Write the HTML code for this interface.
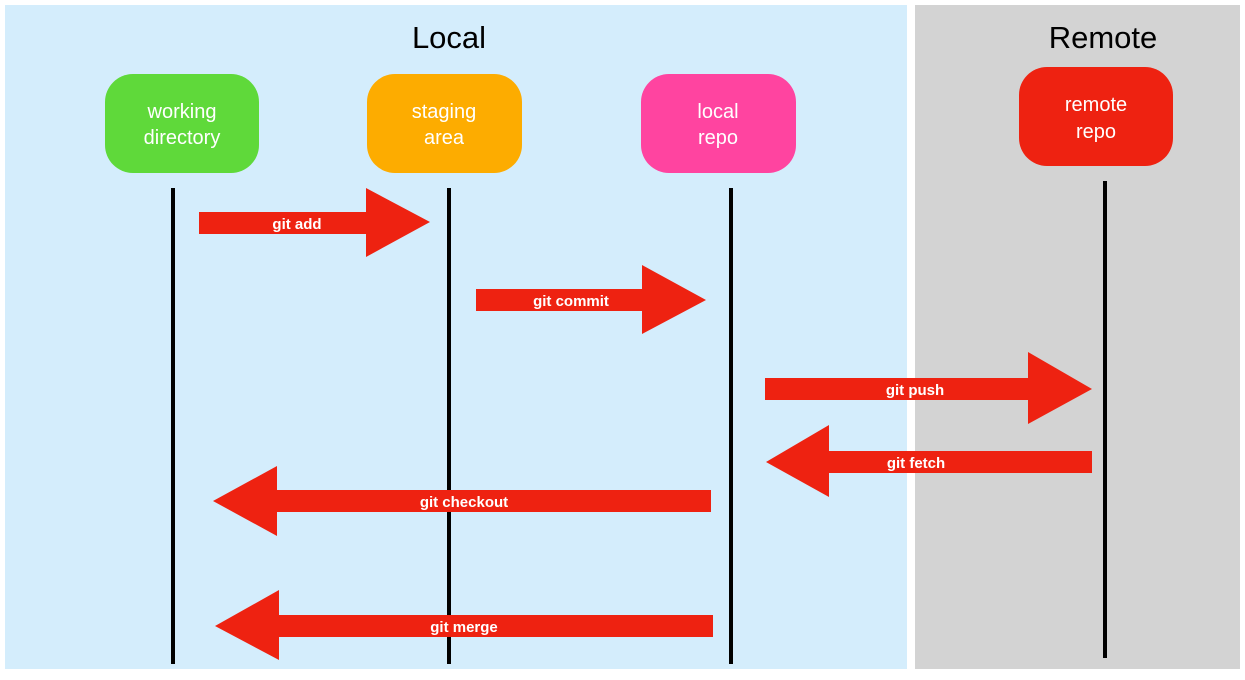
<!DOCTYPE html>
<html><head><style>
body{margin:0;background:#fff;width:1245px;height:675px;overflow:hidden}
svg text{font-family:"Liberation Sans",Arial,sans-serif}
</style></head><body>
<svg width="1245" height="675" xmlns="http://www.w3.org/2000/svg">
<rect x="5" y="5" width="902" height="664" fill="#d4edfc"/>
<rect x="915" y="5" width="325" height="664" fill="#d3d3d3"/>
<text x="449" y="48" font-size="31" text-anchor="middle" fill="#000">Local</text>
<text x="1103" y="48" font-size="31" text-anchor="middle" fill="#000">Remote</text>
<rect x="105" y="74" width="154" height="99" rx="28" fill="#5fd93a"/>
<rect x="367" y="74" width="155" height="99" rx="28" fill="#fdac00"/>
<rect x="641" y="74" width="155" height="99" rx="28" fill="#ff44a0"/>
<rect x="1019" y="67" width="154" height="99" rx="28" fill="#ee2211"/>
<g font-size="20" fill="#fff" text-anchor="middle">
<text x="182" y="118">working</text><text x="182" y="144">directory</text>
<text x="444" y="118">staging</text><text x="444" y="144">area</text>
<text x="718" y="118">local</text><text x="718" y="144">repo</text>
<text x="1096" y="111">remote</text><text x="1096" y="138">repo</text>
</g>
<g fill="#000">
<rect x="171" y="188" width="4" height="476"/>
<rect x="447" y="188" width="4" height="476"/>
<rect x="729" y="188" width="4" height="476"/>
<rect x="1103" y="181" width="4" height="477"/>
</g>
<g fill="#ee2211">
<polygon points="199,212 366,212 366,188 430,222 366,257 366,234 199,234"/>
<polygon points="476,289 642,289 642,265 706,300 642,334 642,311 476,311"/>
<polygon points="765,378 1028,378 1028,352 1092,389 1028,424 1028,400 765,400"/>
<polygon points="1092,451 829,451 829,425 766,462 829,497 829,473 1092,473"/>
<polygon points="711,490 277,490 277,466 213,501 277,536 277,512 711,512"/>
<polygon points="713,615 279,615 279,590 215,626 279,660 279,637 713,637"/>
</g>
<g font-size="15" font-weight="bold" fill="#fff" text-anchor="middle">
<text x="297" y="229">git add</text>
<text x="571" y="306">git commit</text>
<text x="915" y="395">git push</text>
<text x="916" y="468">git fetch</text>
<text x="464" y="507">git checkout</text>
<text x="464" y="632">git merge</text>
</g>
</svg>
</body></html>
